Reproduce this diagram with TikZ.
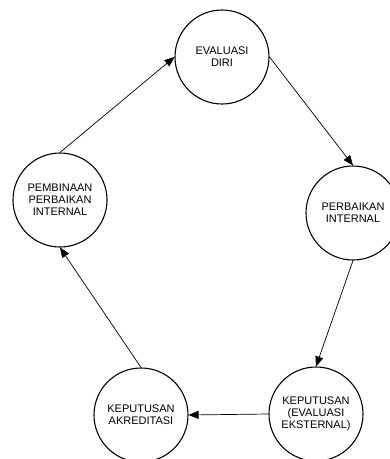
\documentclass[tikz,border=0pt]{standalone}
\usepackage{fontspec}
\setmainfont{Liberation Sans}
\usetikzlibrary{arrows.meta}

\begin{document}
\begin{tikzpicture}[
        x=1pt, y=-1pt,
        every node/.style={font=\fontsize{11}{11.8}\selectfont},
        stage/.style={circle, draw=black, line width=1.1pt, minimum size=94pt, inner sep=0pt, align=center},
        edge/.style={-{Triangle[length=10pt,width=8pt]}, line width=0.7pt}
    ]
        \useasboundingbox (0,0) rectangle (390,459);
        % Cycle stages
        \node[stage] (eval) at (222,57) {EVALUASI\\DIRI};
        \node[stage] (perb) at (353,213) {PERBAIKAN\\INTERNAL};
        \node[stage] (ekst) at (316,414) {KEPUTUSAN\\(EVALUASI\\EKSTERNAL)};
        \node[stage] (akre) at (141,415) {KEPUTUSAN\\AKREDITASI};
        \node[stage] (pemb) at (60,200) {PEMBINAAN\\PERBAIKAN\\INTERNAL};
        % Edges: around the cycle
        \draw[edge] (eval.east) -- (perb.north);
        \draw[edge] (perb.south) -- (ekst.north);
        \draw[edge] (ekst.west) -- (akre.east);
        \draw[edge] (akre.north) -- (pemb.south);
        \draw[edge] (pemb.north) -- (eval.west);
    \end{tikzpicture}
\end{document}
